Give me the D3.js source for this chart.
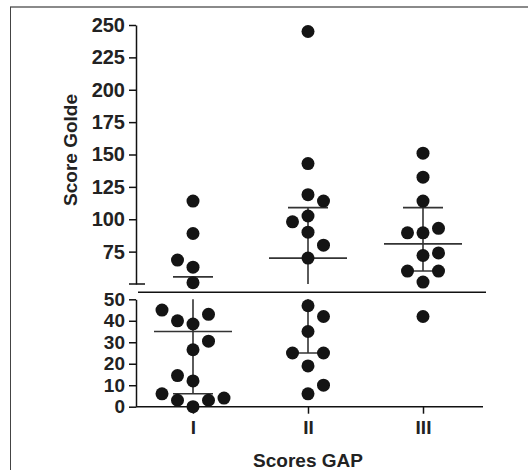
<!DOCTYPE html>
<html>
<head>
<meta charset="utf-8">
<script src="https://cdn.jsdelivr.net/npm/d3@7"></script>
<style>
    body { margin: 0; background: #fff; }
    svg text { font-family: "Liberation Sans", Arial, sans-serif; font-weight: bold; fill: #222; }
</style>
</head>
<body>
<div id="chart"></div>
<script>
    // groups on the x axis
    var groups = ['I', 'II', 'III'];

    // individual scores per group
    var valuesI = [114, 89, 68.5, 63, 51, 45, 43, 40, 38.5, 30.5, 26.5, 14.5, 12, 6, 4, 3, 3, 0];
    var valuesII = [245, 143, 119, 114, 102.5, 98, 90, 80, 70, 47, 42, 35, 25, 25, 19, 10, 6];
    var valuesIII = [151, 132.5, 114, 93, 89.5, 89.5, 74, 72, 60, 60, 51.5, 42];

    // side-by-side column of each dot (dodge lane)
    var lanesI = [0, 0, -1, 0, 0, -2, 1, -1, 0, 1, 0, -1, 0, -2, 2, -1, 1, 0];
    var lanesII = [0, 0, 0, 1, 0, -1, 0, 1, 0, 0, 1, 0, -1, 1, 0, 1, 0];
    var lanesIII = [0, 0, 0, 1, -1, 0, 1, 0, -1, 1, 0, 0];

    // median and interquartile range per group
    var medians = [35, 70, 81];
    var q1 = [6, 25, 60];
    var q3 = [55.5, 109, 109];

    // tick labels of the two axis segments
    var topTicks = [75, 100, 125, 150, 175, 200, 225, 250];
    var bottomTicks = [0, 10, 20, 30, 40, 50];

    var width = 528, height = 470;
    var axisX = 136;
    var breakValue = 50;
    var dotRadius = 6.5;
    var laneStep = 15.5;

    var svg = d3.select('#chart')
        .append('svg')
        .attr('width', width)
        .attr('height', height);

    // frame (top and left edges of the figure panel)
    svg.append('line')
        .attr('x1', 10).attr('x2', width).attr('y1', 7).attr('y2', 7)
        .attr('stroke', '#8a8a8a').attr('stroke-width', 2);
    svg.append('line')
        .attr('x1', 10.5).attr('x2', 10.5).attr('y1', 7).attr('y2', height)
        .attr('stroke', '#444').attr('stroke-width', 1);

    // scales: broken y axis made of two linear pieces
    var x = d3.scalePoint().domain(groups).range([193, 423]);
    var yTop = d3.scaleLinear().domain([breakValue, 250]).range([284, 25]);
    var yBot = d3.scaleLinear().domain([0, breakValue]).range([406.7, 299.3]);

    var yOf = function (v) {
        return v > breakValue ? yTop(v) : yBot(v);
    };

    // upper y axis
    var topAxis = svg.append('g')
        .attr('transform', 'translate(' + axisX + ',0)')
        .call(d3.axisLeft(yTop).tickValues(topTicks).tickSize(7).tickSizeOuter(0).tickPadding(4));
    topAxis.selectAll('text').style('font-size', '20px');

    // cap at the bottom of the upper segment
    svg.append('line')
        .attr('x1', axisX - 7).attr('x2', axisX + 9)
        .attr('y1', yTop(breakValue)).attr('y2', yTop(breakValue))
        .attr('stroke', '#111').attr('stroke-width', 1.5);

    // lower y axis
    var botAxis = svg.append('g')
        .attr('transform', 'translate(' + axisX + ',0)')
        .call(d3.axisLeft(yBot).tickValues(bottomTicks).tickSize(7).tickSizeOuter(0).tickPadding(4));
    botAxis.selectAll('text').style('font-size', '19px');

    [topAxis, botAxis].forEach(function (a) {
        a.selectAll('path, line').attr('stroke', '#111').attr('stroke-width', 1.5);
        a.selectAll('text').attr('fill', '#222');
    });

    // break line between the two segments
    svg.append('line')
        .attr('x1', axisX + 2).attr('x2', 486)
        .attr('y1', 292.3).attr('y2', 292.3)
        .attr('stroke', '#111').attr('stroke-width', 1.5);

    // x axis
    var xAxis = svg.append('g')
        .attr('transform', 'translate(0,' + yBot(0) + ')')
        .call(d3.axisBottom(x).tickSize(7).tickPadding(7));
    xAxis.select('.domain').remove();
    xAxis.selectAll('line').attr('stroke', '#111').attr('stroke-width', 1.5);
    xAxis.selectAll('text').style('font-size', '19px').attr('fill', '#222');
    svg.append('line')
        .attr('x1', axisX).attr('x2', 483)
        .attr('y1', yBot(0)).attr('y2', yBot(0))
        .attr('stroke', '#111').attr('stroke-width', 1.5);

    // axis titles
    svg.append('text')
        .attr('x', x('II'))
        .attr('y', 467)
        .attr('text-anchor', 'middle')
        .style('font-size', '19px')
        .text('Scores GAP');

    svg.append('text')
        .attr('transform', 'translate(77,150) rotate(-90)')
        .attr('text-anchor', 'middle')
        .style('font-size', '19px')
        .text('Score Golde');

    // median + IQR bars
    var bars = svg.append('g').attr('stroke', '#333').attr('stroke-width', 1.6);

    groups.forEach(function (g, i) {
        var cx = x(g);
        var lo = q1[i], hi = q3[i];

        // vertical part, split over the two segments
        if (hi > breakValue) {
            bars.append('line')
                .attr('x1', cx).attr('x2', cx)
                .attr('y1', yTop(hi)).attr('y2', yTop(Math.max(lo, breakValue)));
        }
        if (lo < breakValue) {
            bars.append('line')
                .attr('x1', cx).attr('x2', cx)
                .attr('y1', yBot(Math.min(hi, breakValue))).attr('y2', yBot(lo));
        }

        bars.append('line')
            .attr('x1', cx - 39).attr('x2', cx + 39)
            .attr('y1', yOf(medians[i])).attr('y2', yOf(medians[i]));

        [lo, hi].forEach(function (q) {
            bars.append('line')
                .attr('x1', cx - 20).attr('x2', cx + 20)
                .attr('y1', yOf(q)).attr('y2', yOf(q));
        });
    });

    // dots
    var points = [];
    [valuesI, valuesII, valuesIII].forEach(function (vals, i) {
        var lanes = [lanesI, lanesII, lanesIII][i];
        vals.forEach(function (v, j) {
            points.push({ group: groups[i], value: v, lane: lanes[j] });
        });
    });

    svg.append('g')
        .selectAll('circle')
        .data(points)
        .enter()
        .append('circle')
        .attr('cx', function (d) { return x(d.group) + d.lane * laneStep; })
        .attr('cy', function (d) { return yOf(d.value); })
        .attr('r', dotRadius)
        .attr('fill', '#141414');
</script>
</body>
</html>
